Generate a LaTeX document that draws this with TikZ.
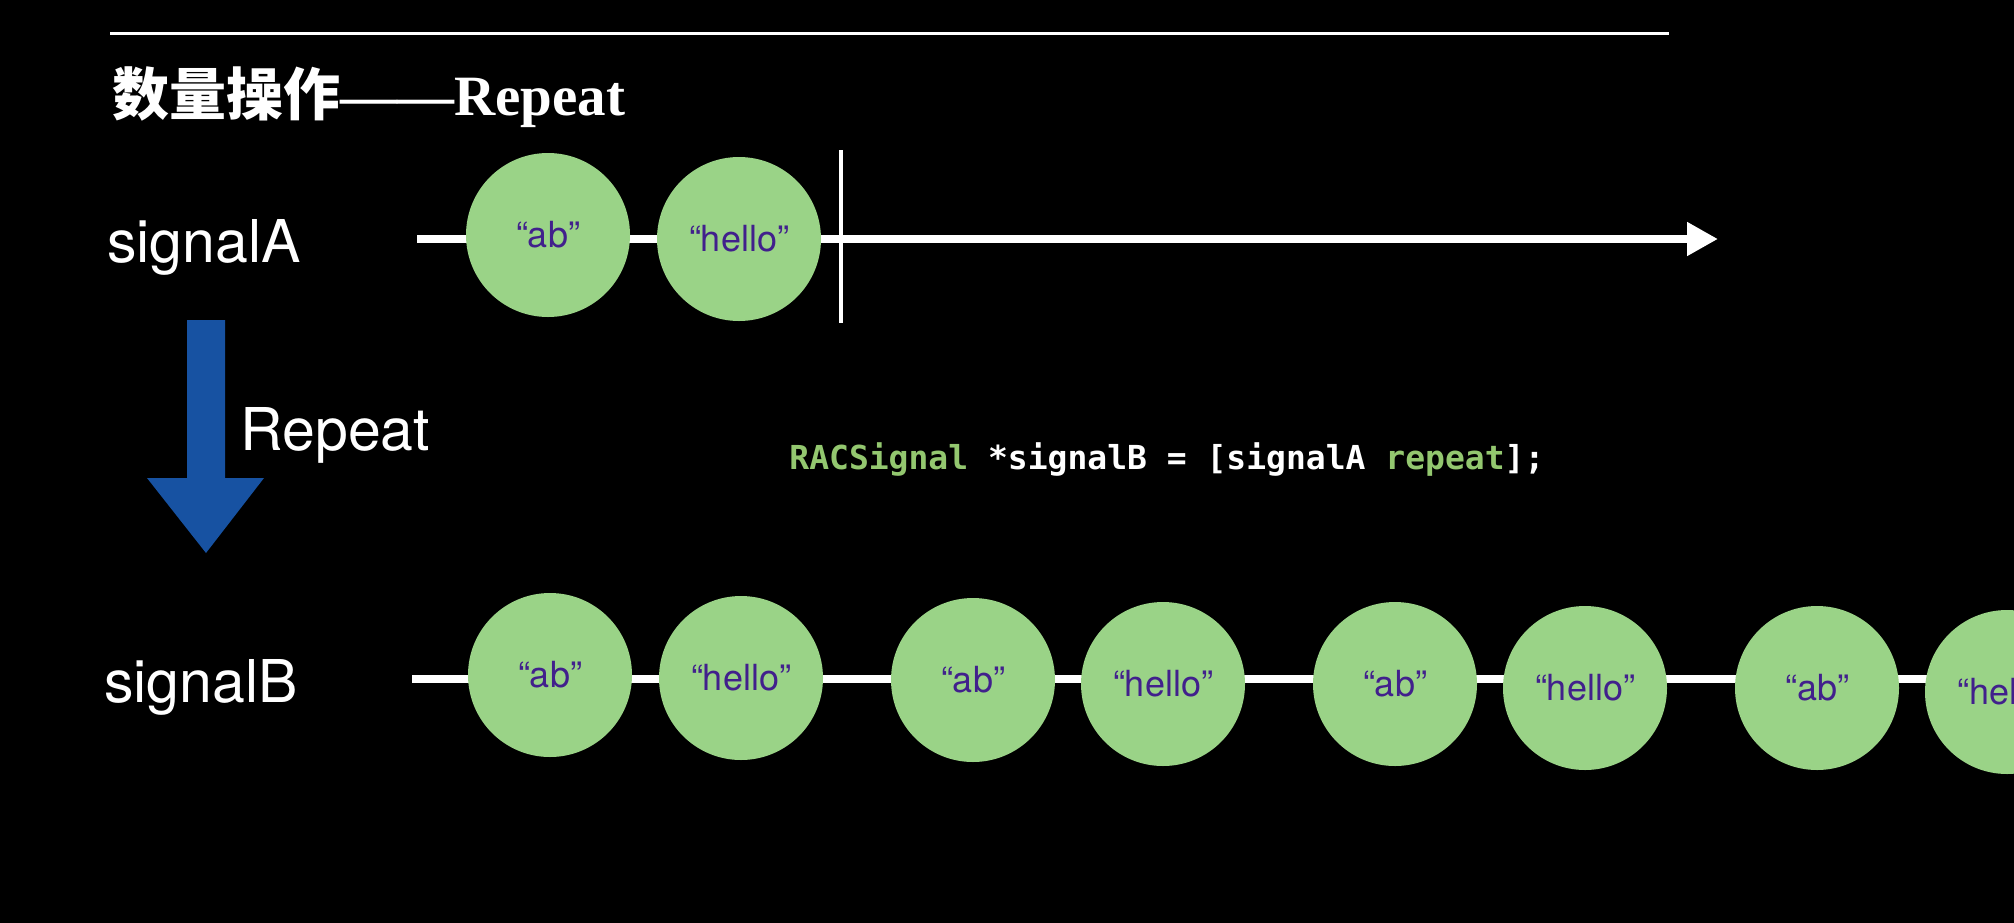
\documentclass[tikz,border=0pt]{standalone}
\usepackage{fontspec}
\setmainfont{TeX Gyre Heros}
\newfontfamily\cjkfont{Noto Sans CJK SC}
\newfontfamily\titlefont{Liberation Serif}
\newfontfamily\codefont{DejaVu Sans Mono}
\usetikzlibrary{arrows.meta}
\definecolor{bubblegreen}{HTML}{9AD387}
\definecolor{valpurple}{HTML}{41208C}
\definecolor{opblue}{HTML}{1752A2}
\definecolor{kwgreen}{HTML}{93C76F}
\newcommand{\kw}[1]{\textcolor{kwgreen}{#1}}

\begin{document}
\begin{tikzpicture}[x=0.5pt, y=-0.5pt,
    bubble/.style={circle, fill=bubblegreen, minimum size=82pt, inner sep=0pt,
                   text=valpurple, font=\fontsize{18}{20}\selectfont},
    lbl/.style={anchor=base west, inner sep=0pt, text=white,
                font=\fontsize{29.5}{34}\selectfont},
    axis/.style={white, line width=4pt},
    arr/.style={axis, -{Triangle[length=15.5pt, width=16pt]}}
  ]
  % Background
  \useasboundingbox (0,0) rectangle (2014,922);
  \fill[black] (-20,-20) rectangle (2034,942);
  % Title and rule
  \coordinate (ruleL) at (110,33);
  \coordinate (ruleR) at (1669,33);
  \draw[white, line width=1.5pt] (ruleL) -- (ruleR);
  \node[lbl, font=\fontsize{28.5}{34}\selectfont] (title) at (112,115)
    {{\cjkfont\bfseries 数量操作}{\titlefont\bfseries ——Repeat}};
  % Time lines
  \coordinate (As) at (417,239);
  \coordinate (Ae) at (1718,239);
  \coordinate (Bs) at (412,679);
  \coordinate (Be) at (2040,679);
  \draw[arr] (As) -- (Ae);
  \draw[axis] (Bs) -- (Be);
  % Completion mark
  \coordinate (doneT) at (841,150);
  \coordinate (doneB) at (841,323);
  \draw[white, line width=2pt] (doneT) -- (doneB);
  % Row labels
  \node[lbl] (sigA) at (107,262) {signalA};
  \node[lbl] (sigB) at (104,702) {signalB};
  % Values of signalA
  \node[bubble] (A1) at (548,235) {“ab”};
  \node[bubble] (A2) at (739,239) {“hello”};
  % Values of signalB
  \node[bubble] (B1) at (550,675) {“ab”};
  \node[bubble] (B2) at (741,678) {“hello”};
  \node[bubble] (B3) at (973,680) {“ab”};
  \node[bubble] (B4) at (1163,684) {“hello”};
  \node[bubble] (B5) at (1395,684) {“ab”};
  \node[bubble] (B6) at (1585,688) {“hello”};
  \node[bubble] (B7) at (1817,688) {“ab”};
  \node[bubble] (B8) at (2007,692) {“hello”};
  % Operator arrow
  \fill[opblue] (187,320) -- (225,320) -- (225,478) -- (264,478)
    -- (206,553) -- (147,478) -- (187,478) -- cycle;
  \node[lbl] (op) at (240,450) {Repeat};
  % Code line
  \node[lbl, font=\codefont\bfseries\fontsize{16.5}{20}\selectfont] (code) at (789,469)
    {\kw{RACSignal} *signalB = [signalA \kw{repeat}];};
\end{tikzpicture}
\end{document}
